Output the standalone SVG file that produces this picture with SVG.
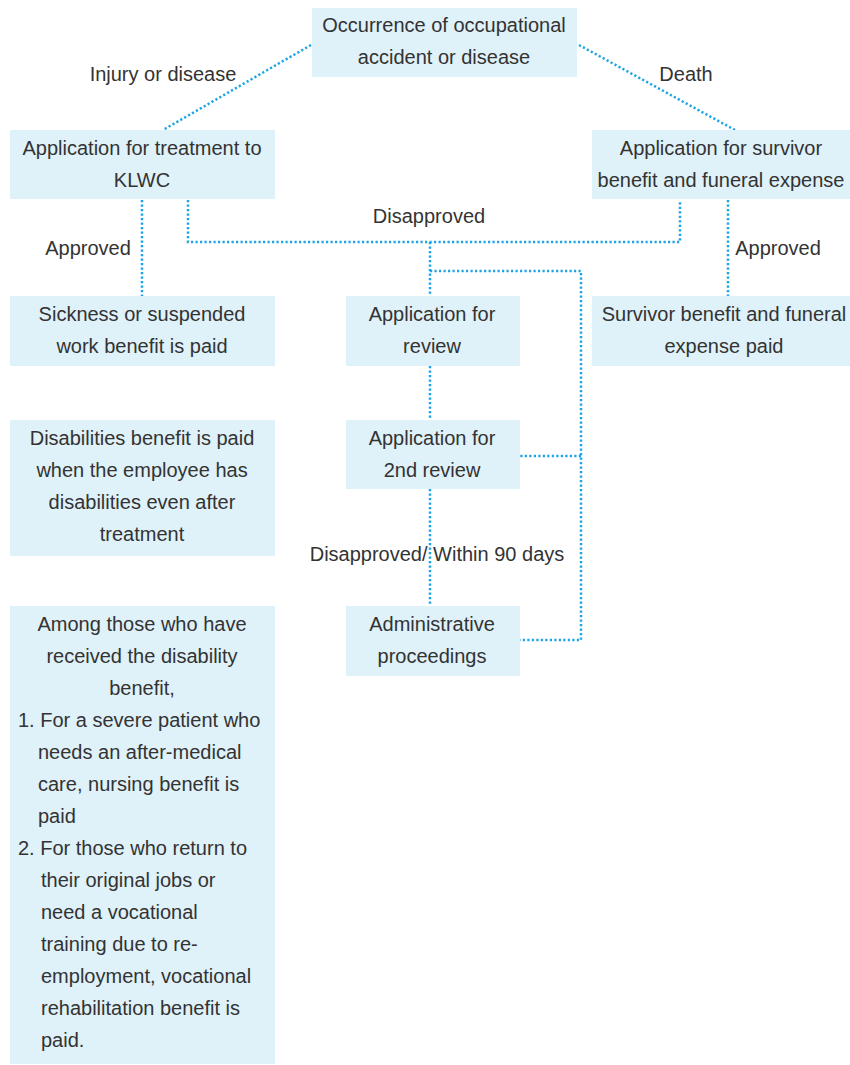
<svg xmlns="http://www.w3.org/2000/svg" width="850" height="1065" viewBox="0 0 850 1065">
<style>
.box{fill:#dff1f9}
.t{font-family:"Liberation Sans",Arial,sans-serif;font-size:20px;fill:#333;text-anchor:middle}
.l{text-anchor:start}
.c{fill:none;stroke:#1ea4e4;stroke-width:2.5;stroke-dasharray:2.2 2.3}
</style>
<rect width="850" height="1065" fill="#fff"/>
<g id="connectors">
<path class="c" d="M311,45 L163,130"/>
<path class="c" d="M579,45 L735,130"/>
<path class="c" d="M142,200 V296"/>
<path class="c" d="M188,200 V242 H680 V200"/>
<path class="c" d="M430,242 V296"/>
<path class="c" d="M430,271 H581 V640 H520"/>
<path class="c" d="M581,456 H520"/>
<path class="c" d="M728,200 V296"/>
<path class="c" d="M430,366 V420"/>
<path class="c" d="M430,489 V606"/>
<text class="t" x="163" y="81">Injury or disease</text>
<text class="t" x="686" y="81">Death</text>
<text class="t" x="429" y="223">Disapproved</text>
<text class="t" x="88" y="255">Approved</text>
<text class="t" x="778" y="255">Approved</text>
<text class="t" x="437" y="561">Disapproved/ Within 90 days</text>
</g>
<g id="n-occurrence"><rect class="box" x="312" y="8" width="265" height="69"/>
<text class="t" x="444" y="32">Occurrence of occupational</text><text class="t" x="444" y="64">accident or disease</text></g>
<g id="n-treatment"><rect class="box" x="10" y="130" width="265" height="69"/>
<text class="t" x="142" y="155">Application for treatment to</text><text class="t" x="142" y="187">KLWC</text></g>
<g id="n-survivor-app"><rect class="box" x="592" y="130" width="258" height="69"/>
<text class="t" x="721" y="155">Application for survivor</text><text class="t" x="721" y="187">benefit and funeral expense</text></g>
<g id="n-sickness"><rect class="box" x="10" y="296" width="265" height="70"/>
<text class="t" x="142" y="321">Sickness or suspended</text><text class="t" x="142" y="353">work benefit is paid</text></g>
<g id="n-review"><rect class="box" x="346" y="296" width="174" height="70"/>
<text class="t" x="432" y="321">Application for</text><text class="t" x="432" y="353">review</text></g>
<g id="n-survivor-paid"><rect class="box" x="592" y="296" width="258" height="70"/>
<text class="t" x="724" y="321">Survivor benefit and funeral</text><text class="t" x="724" y="353">expense paid</text></g>
<g id="n-2nd-review"><rect class="box" x="346" y="420" width="174" height="69"/>
<text class="t" x="432" y="445">Application for</text><text class="t" x="432" y="477">2nd review</text></g>
<g id="n-disabilities"><rect class="box" x="10" y="420" width="265" height="136"/>
<text class="t" x="142" y="445">Disabilities benefit is paid</text><text class="t" x="142" y="477">when the employee has</text><text class="t" x="142" y="509">disabilities even after</text><text class="t" x="142" y="541">treatment</text></g>
<g id="n-admin"><rect class="box" x="346" y="606" width="174" height="70"/>
<text class="t" x="432" y="631">Administrative</text><text class="t" x="432" y="663">proceedings</text></g>
<g id="n-among"><rect class="box" x="10" y="606" width="265" height="458"/>
<text class="t" x="142" y="631">Among those who have</text>
<text class="t" x="142" y="663">received the disability</text>
<text class="t" x="142" y="695">benefit,</text>
<text class="t l" x="18" y="727">1. For a severe patient who</text>
<text class="t l" x="38" y="759">needs an after-medical</text>
<text class="t l" x="38" y="791">care, nursing benefit is</text>
<text class="t l" x="38" y="823">paid</text>
<text class="t l" x="18" y="855">2. For those who return to</text>
<text class="t l" x="41" y="887">their original jobs or</text>
<text class="t l" x="41" y="919">need a vocational</text>
<text class="t l" x="41" y="951">training due to re-</text>
<text class="t l" x="41" y="983">employment, vocational</text>
<text class="t l" x="41" y="1015">rehabilitation benefit is</text>
<text class="t l" x="41" y="1047">paid.</text></g>
</svg>
